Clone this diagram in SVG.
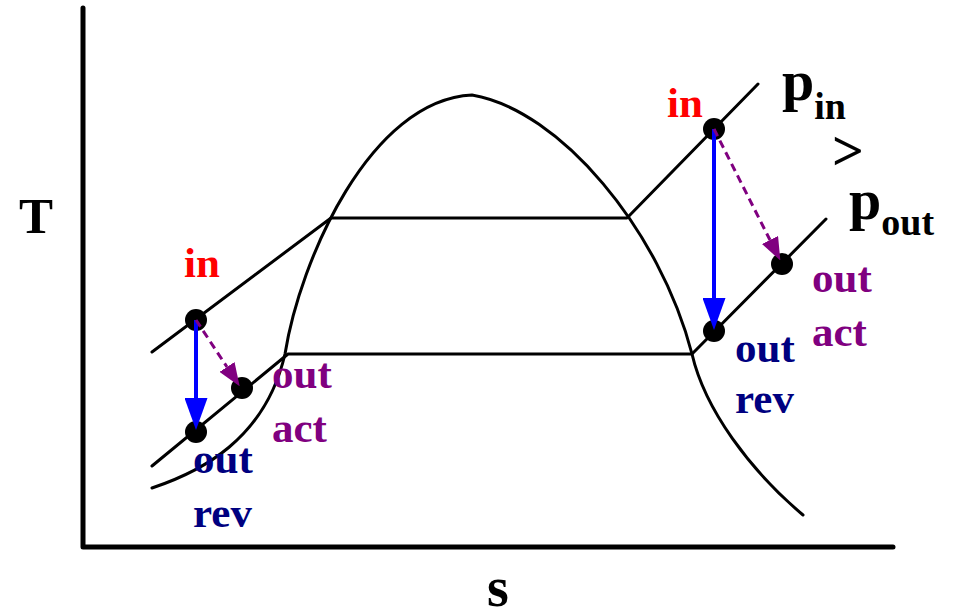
<svg xmlns="http://www.w3.org/2000/svg" width="953" height="613" viewBox="0 0 953 613">
<style>
.ln{fill:none;stroke:#000;stroke-width:3;stroke-linecap:round;stroke-linejoin:round}
.ax{fill:none;stroke:#000;stroke-width:5;stroke-linecap:round;stroke-linejoin:round}
.pt{fill:#000}
.t{font-family:"Liberation Serif","Times New Roman",serif;font-weight:bold;font-size:43px}
.red{fill:#ff0000}.pur{fill:#800080}.nav{fill:#000080}.blk{fill:#000}
.rev{stroke:#0000ff;stroke-width:4;fill:none}
.act{stroke:#800080;stroke-width:3;fill:none;stroke-dasharray:8,5}
</style>
<defs>
<marker id="hb" markerUnits="userSpaceOnUse" viewBox="0 0 32 23" refX="0" refY="11.5" markerWidth="32" markerHeight="23" orient="auto"><path d="M0,0 L32,11.5 L0,23 z" fill="#0000ff"/></marker>
<marker id="hp" markerUnits="userSpaceOnUse" viewBox="0 0 23 18" refX="0" refY="9" markerWidth="23" markerHeight="18" orient="auto"><path d="M0,0 L23,9 L0,18 z" fill="#800080"/></marker>
</defs>
<g id="axes">
<path class="ax" d="M83,8 L83,547 L893,547"/>
<text class="t blk" x="19" y="233" style="font-size:51px">T</text>
<text class="t blk" x="487" y="606" style="font-size:56px">s</text>
</g>
<g id="dome">
<path class="ln" d="M152,488 C200,472 265,440 285,354 C300,260 370,100 472,95 C560,110 660,230 692,354 C705,410 750,470 803,515"/>
</g>
<g id="isobars">
<path class="ln" d="M152,352 L331,218 L627,218 L758,84"/>
<path class="ln" d="M152,466 L288,354 L692,354 L826,219"/>
<text class="t blk" x="782" y="100" style="font-size:58px">p<tspan dy="19" style="font-size:38px">in</tspan></text>
<text class="t blk" x="832" y="170" style="font-size:56px">&gt;</text>
<text class="t blk" x="849" y="219" style="font-size:58px">p<tspan dy="16" style="font-size:38px">out</tspan></text>
</g>
<g id="left-in"><circle class="pt" cx="196" cy="320" r="11"/><text class="t red" x="184" y="277">in</text></g>
<g id="left-out-act"><circle class="pt" cx="242" cy="388" r="11"/><text class="t pur" x="272" y="388">out</text><text class="t pur" x="272" y="442">act</text></g>
<g id="left-out-rev"><circle class="pt" cx="196" cy="432" r="11"/><text class="t nav" x="193" y="473">out</text><text class="t nav" x="193" y="527">rev</text></g>
<g id="right-in"><circle class="pt" cx="714" cy="129" r="11"/><text class="t red" x="667" y="117">in</text></g>
<g id="right-out-act"><circle class="pt" cx="782" cy="264" r="11"/><text class="t pur" x="812" y="292">out</text><text class="t pur" x="812" y="346">act</text></g>
<g id="right-out-rev"><circle class="pt" cx="714" cy="331" r="11"/><text class="t nav" x="735" y="362">out</text><text class="t nav" x="735" y="413">rev</text></g>
<g id="connectors">
<path class="rev" d="M196,320 L196,398" marker-end="url(#hb)"/>
<path class="rev" d="M714,129 L714,298" marker-end="url(#hb)"/>
<path class="act" d="M196,320 L227,367" marker-end="url(#hp)"/>
<path class="act" d="M714,129 L770,240" marker-end="url(#hp)"/>
</g>
</svg>
